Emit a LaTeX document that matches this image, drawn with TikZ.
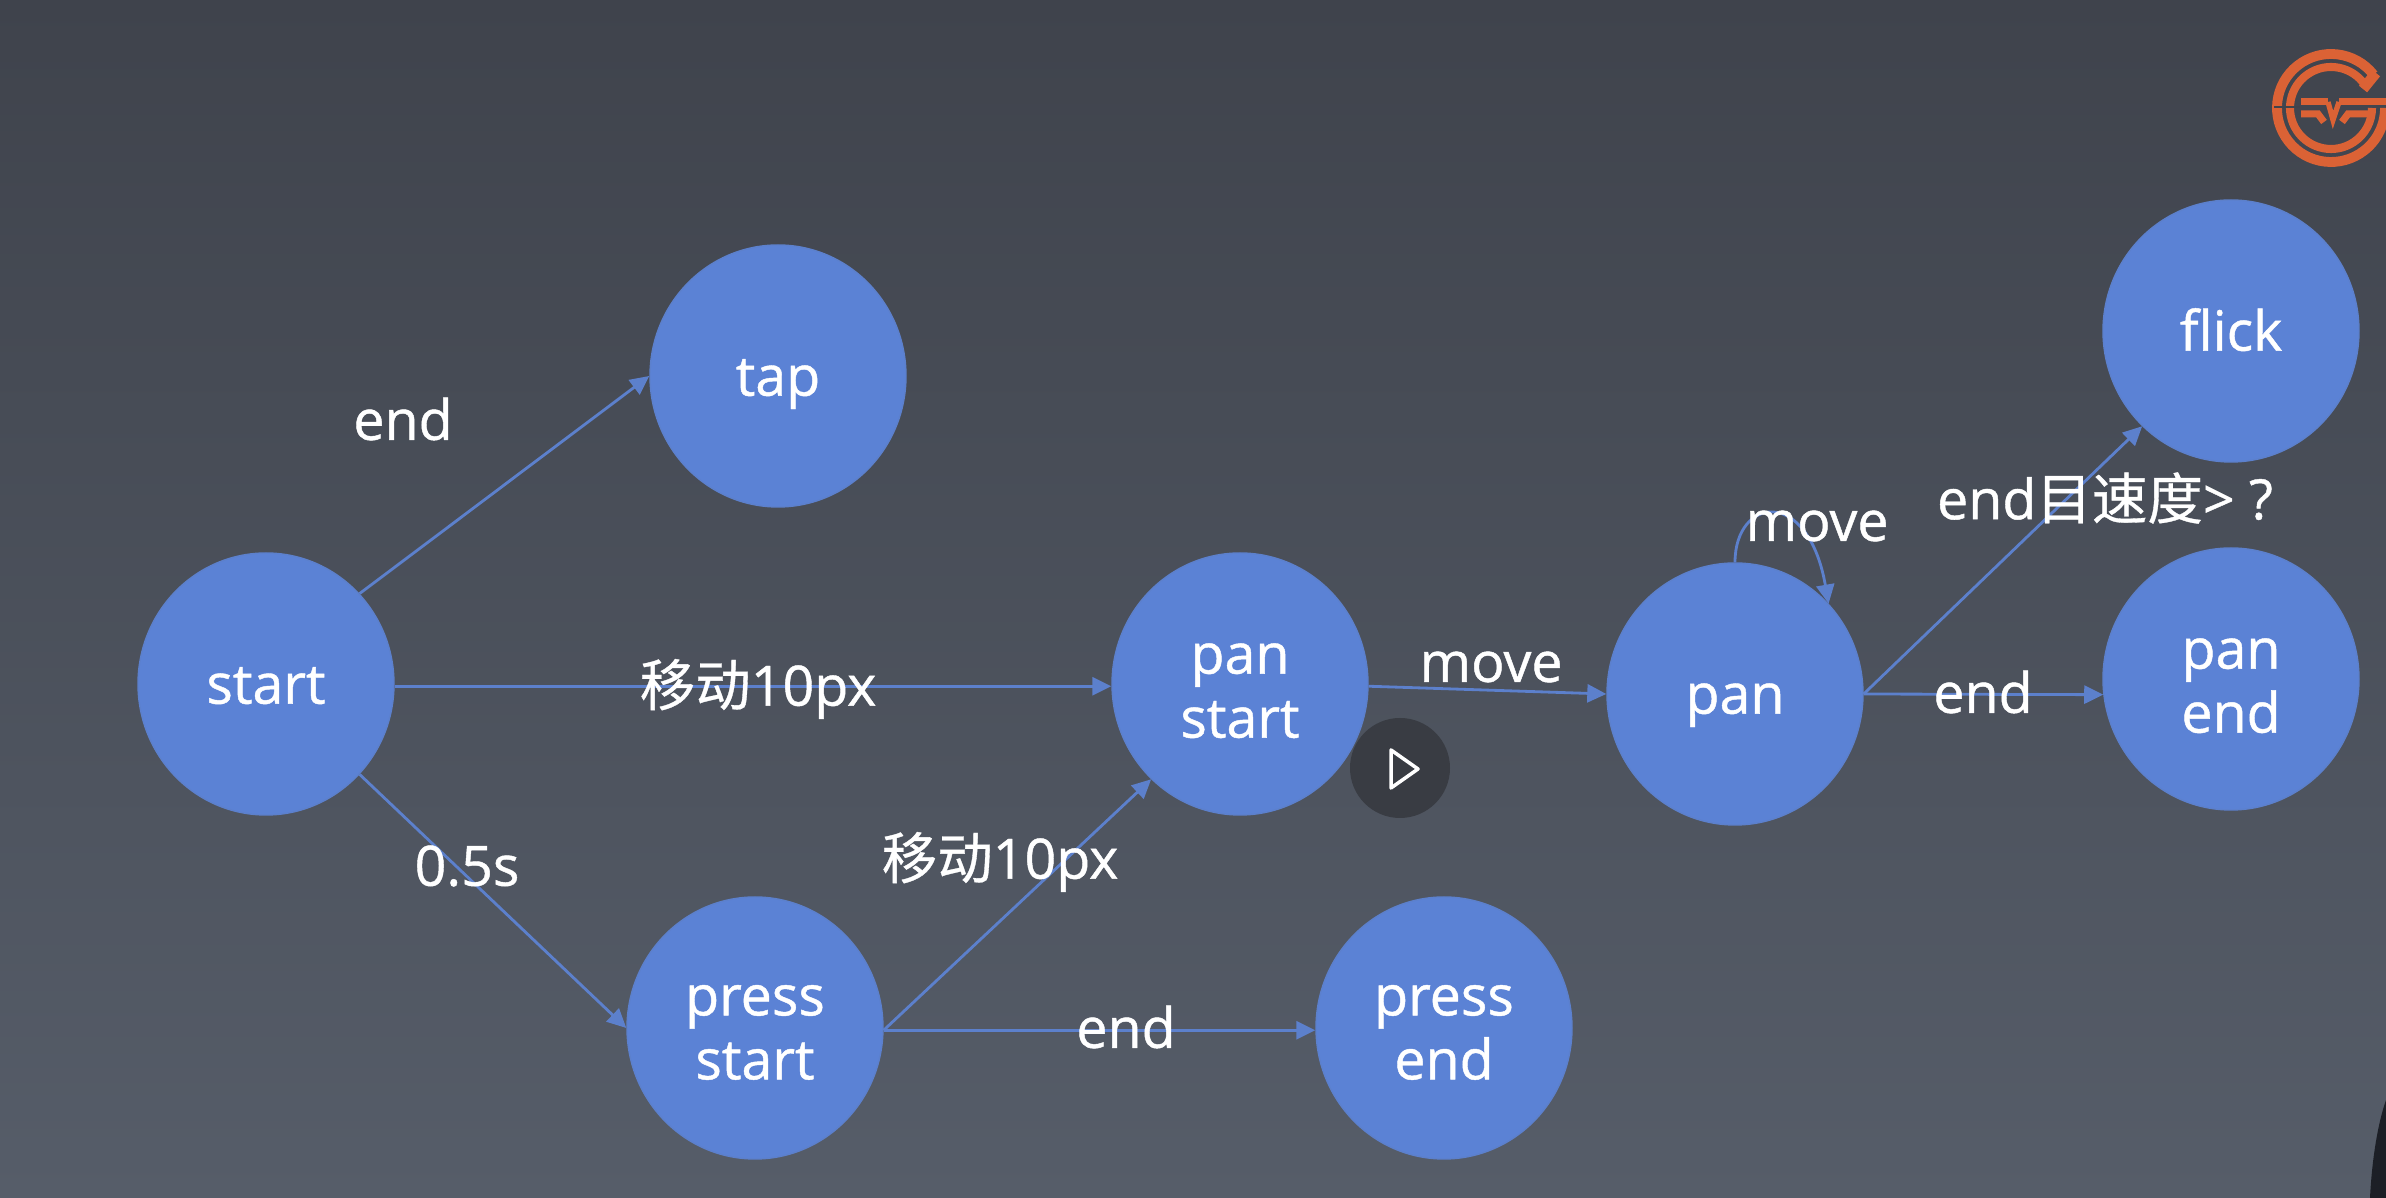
\documentclass[tikz,border=0pt]{standalone}
\usepackage{fontspec}
\setmainfont{Open Sans}[RawFeature={embolden=0.8}]
\newfontfamily\cjk{Noto Sans CJK SC}[RawFeature={embolden=0.6}]
\usepackage{xcolor}
\usetikzlibrary{shapes,arrows.meta,positioning}
\definecolor{bgtop}{HTML}{3F434C}
\definecolor{bgbottom}{HTML}{565D69}
\definecolor{nodeblue}{HTML}{5B82D5}
\definecolor{linkblue}{HTML}{5C80CC}
\definecolor{logoorange}{HTML}{DB6235}
\definecolor{playgray}{HTML}{393C43}
\definecolor{persondark}{HTML}{1C1F26}

\begin{document}
\begin{tikzpicture}[
    statenode/.style={draw=linkblue, fill=nodeblue, ellipse, inner sep=0pt, minimum width=2.56cm, minimum height=2.62cm, align=center, text=white, text height=11.2pt, text depth=0pt, font=\fontsize{15.8}{18.2}\selectfont},
    twolines/.style={text height=30.5pt},
    edgelabel/.style={text=white, inner sep=0pt, font=\fontsize{15.8}{18.2}\selectfont},
    link/.style={draw=linkblue, line width=0.8pt, -{Triangle[length=0.19cm,width=0.18cm]}},
    logoring/.style={draw=logoorange, line width=1.2pt}
  ]
  \useasboundingbox (0,0) rectangle (23.86,11.98);

  % background
  \shade[top color=bgtop, bottom color=bgbottom] (0,0) rectangle (23.86,11.98);
  \fill[persondark] (23.86,0.98) .. controls (23.78,0.75) and (23.72,0.4) .. (23.70,0) -- (23.86,0) -- cycle;

  % logo
  \begin{scope}
    \clip (22,10) rectangle (23.86,11.98);
    \draw[logoring, line width=2.8pt] (23.31,10.90) ++(38:0.54) arc (38:360:0.54);
    \draw[logoring, line width=2.3pt] (23.31,10.90) ++(34:0.41) arc (34:360:0.41);
    \draw[logoring, line width=3pt] (23.76,11.25) -- (23.63,11.09);
    \draw[bgtop, line width=0.6pt] (22.74,10.91) -- (23.00,10.91);
    \draw[logoring, line width=2pt] (23.01,10.96) -- (23.28,10.96);
    \draw[logoring, line width=2pt] (23.01,10.84) -- (23.18,10.84) -- (23.24,10.76);
    \draw[logoring, line width=2pt] (23.39,10.96) -- (23.86,10.96);
    \draw[logoring, line width=2pt] (23.42,10.76) -- (23.48,10.84) -- (23.72,10.84);
    \draw[logoring, line width=1.5pt] (23.28,10.96) -- (23.33,10.78) -- (23.39,10.96);
  \end{scope}

  % states
  \node[statenode] (start) at (2.66,5.14) {start};
  \node[statenode] (tap) at (7.78,8.22) {tap};
  \node[statenode, twolines] (panstart) at (12.40,5.14) {pan\\start};
  \node[statenode] (pan) at (17.35,5.04) {pan};
  \node[statenode] (flick) at (22.31,8.67) {flick};
  \node[statenode, twolines] (panend) at (22.31,5.19) {pan\\end};
  \node[statenode, twolines, text height=29.2pt] (pressstart) at (7.55,1.70) {press\\start};
  \node[statenode, twolines, text height=29.2pt] (pressend) at (14.44,1.70) {press\\end};

  % links
  \draw[link] (start.-1) -- (panstart.181);
  \draw[link] (start.44) -- (tap.west);
  \draw[link] (start.-44) -- (pressstart.west);
  \draw[link] (pressstart.-1) -- (panstart.-133);
  \draw[link] (pressstart.-1) -- (pressend.181);
  \draw[link] (panstart.-1) -- (pan.west);
  \draw[link] (pan.90) to[out=90,in=100,out distance=0.65cm,in distance=1.2cm] (pan.44);
  \draw[link] (pan.east) -- (flick.-133);
  \draw[link] (pan.east) -- (panend.187);

  % labels
  \node[edgelabel] (endtap) at (4.03,7.79) {end};
  \node[edgelabel] (moveten) at (7.58,5.09) {{\cjk 移动}10px};
  \node[edgelabel] (halfsec) at (4.67,3.32) {0.5s};
  \node[edgelabel] (pressmove) at (10.00,3.36) {{\cjk 移动}10px};
  \node[edgelabel] (endpress) at (11.26,1.71) {end};
  \node[edgelabel] (startmove) at (14.91,5.31) {move};
  \node[edgelabel] (panmove) at (18.17,6.72) {move};
  \node[edgelabel] (endspeed) at (21.05,7.00) {end{\cjk 目速度}> ?};
  \node[edgelabel] (endpan) at (19.83,5.06) {end};

  % play button
  \node[circle, fill=playgray, minimum size=1.0cm, inner sep=0pt] (play) at (14.00,4.30) {};
  \draw[white, line width=1pt, line join=round] (13.91,4.48) -- (14.18,4.29) -- (13.91,4.10) -- cycle;
\end{tikzpicture}
\end{document}
